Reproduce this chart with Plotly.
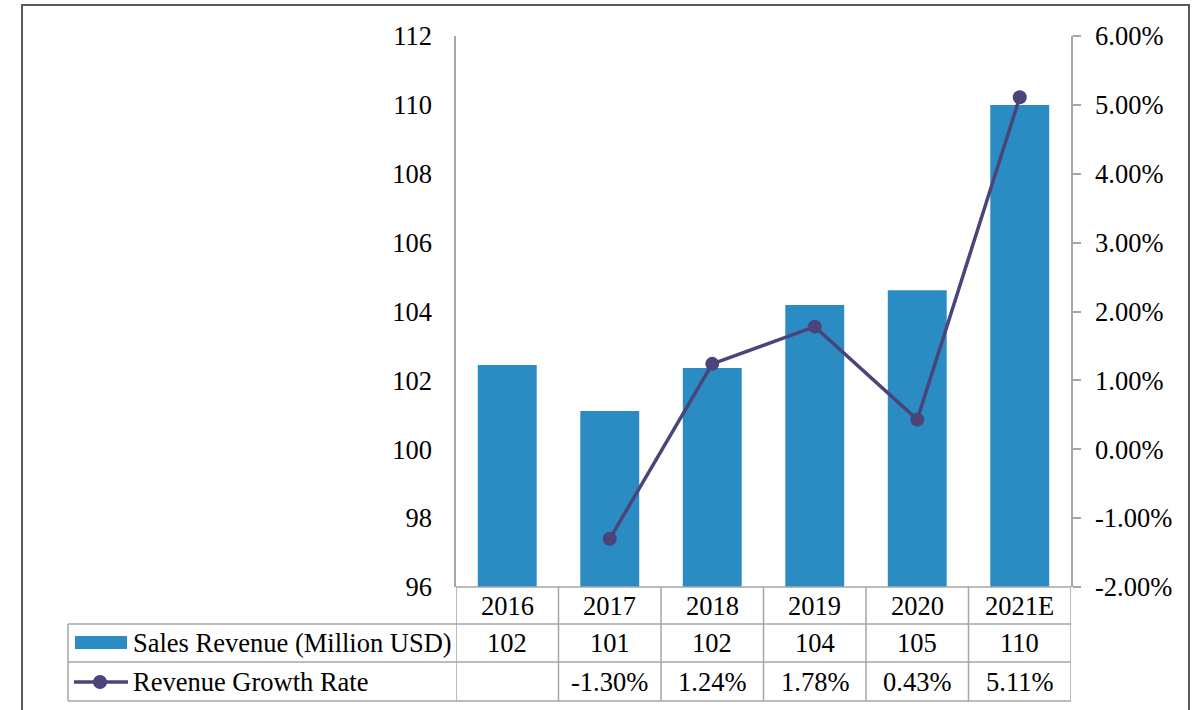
import plotly.graph_objects as go

# Data
years = ["2016", "2017", "2018", "2019", "2020", "2021E"]
revenue = [102.45, 101.11, 102.36, 104.19, 104.62, 110.0]   # Million USD
growth_pct = [None, -1.30, 1.24, 1.78, 0.43, 5.11]           # percent

left_ticks = [96, 98, 100, 102, 104, 106, 108, 110, 112]
right_ticks = [-0.02, -0.01, 0.0, 0.01, 0.02, 0.03, 0.04, 0.05, 0.06]

BAR_COLOR = "#2B8CC4"
LINE_COLOR = "#4A4479"
GRID_GRAY = "#A6A6A6"
FONT = "'Liberation Serif', 'Times New Roman', 'DejaVu Serif', serif"
FS = 26.5

W, H = 1197, 710
L, R, T, B = 456, 1071, 36, 587   # plot area in pixels


def px_x(px):
    return (px - L) / (R - L)


def px_y(py):
    return (B - py) / (B - T)


growth_frac = [None if g is None else g / 100 for g in growth_pct]

fig = go.Figure()
fig.add_trace(go.Bar(
    x=list(range(len(years))), y=revenue, name="Sales Revenue (Million USD)",
    marker=dict(color=BAR_COLOR, line=dict(width=0)), width=0.575,
))
fig.add_trace(go.Scatter(
    x=list(range(len(years))), y=growth_frac, name="Revenue Growth Rate",
    yaxis="y2", mode="lines+markers",
    line=dict(color=LINE_COLOR, width=3.5),
    marker=dict(color=LINE_COLOR, size=14),
    connectgaps=False,
))

shapes = []
annotations = []

# Table rows (pixel y of horizontal rule lines)
row_lines = [B, 624, 662, 701]
table_left = 68
n = len(years)

# horizontal rules
shapes.append(dict(type="line", xref="x", yref="paper", x0=-0.5, x1=n - 0.5,
                   y0=px_y(row_lines[0]), y1=px_y(row_lines[0]),
                   line=dict(color=GRID_GRAY, width=1.5)))
for py in row_lines[1:]:
    shapes.append(dict(type="line", xref="paper", yref="paper",
                       x0=px_x(table_left), x1=1, y0=px_y(py), y1=px_y(py),
                       line=dict(color=GRID_GRAY, width=1.5)))
# vertical rules between categories
for i in range(n + 1):
    shapes.append(dict(type="line", xref="x", yref="paper", x0=i - 0.5, x1=i - 0.5,
                       y0=px_y(row_lines[0]), y1=px_y(row_lines[-1]),
                       line=dict(color=GRID_GRAY, width=1.5)))
# left edge of legend column
shapes.append(dict(type="line", xref="paper", yref="paper",
                   x0=px_x(table_left), x1=px_x(table_left),
                   y0=px_y(row_lines[1]), y1=px_y(row_lines[-1]),
                   line=dict(color=GRID_GRAY, width=1.5)))

# row centres
row_mid = [(row_lines[i] + row_lines[i + 1]) / 2 for i in range(3)]
for i, yr in enumerate(years):
    annotations.append(dict(x=i, y=px_y(row_mid[0]), xref="x", yref="paper",
                            text=yr, showarrow=False, xanchor="center", yanchor="middle"))
    annotations.append(dict(x=i, y=px_y(row_mid[1]), xref="x", yref="paper",
                            text=f"{revenue[i]:.0f}", showarrow=False,
                            xanchor="center", yanchor="middle"))
    if growth_pct[i] is not None:
        annotations.append(dict(x=i, y=px_y(row_mid[2]), xref="x", yref="paper",
                                text=f"{growth_pct[i]:.2f}%", showarrow=False,
                                xanchor="center", yanchor="middle"))

# legend keys inside the table
shapes.append(dict(type="rect", xref="paper", yref="paper",
                   x0=px_x(75), x1=px_x(127), y0=px_y(649), y1=px_y(636),
                   fillcolor=BAR_COLOR, line=dict(width=0)))
shapes.append(dict(type="line", xref="paper", yref="paper",
                   x0=px_x(74), x1=px_x(128), y0=px_y(682), y1=px_y(682),
                   line=dict(color=LINE_COLOR, width=3.5)))
shapes.append(dict(type="circle", xref="paper", yref="paper",
                   x0=px_x(93), x1=px_x(107), y0=px_y(689), y1=px_y(675),
                   fillcolor=LINE_COLOR, line=dict(width=0)))
for name, py in [(fig.data[0].name, row_mid[1]), (fig.data[1].name, row_mid[2])]:
    annotations.append(dict(x=px_x(131), y=px_y(py), xref="paper", yref="paper",
                            text=name, showarrow=False, xanchor="left", yanchor="middle"))

# outer frame
shapes.append(dict(type="rect", xref="paper", yref="paper",
                   x0=px_x(22), x1=px_x(1189), y0=px_y(5), y1=px_y(720),
                   line=dict(color="#595959", width=2), fillcolor="rgba(0,0,0,0)"))

fig.update_layout(
    width=W, height=H,
    margin=dict(l=L, r=W - R, t=T, b=H - B, pad=0),
    paper_bgcolor="white", plot_bgcolor="white",
    showlegend=False,
    font=dict(family=FONT, size=FS, color="black"),
    xaxis=dict(range=[-0.5, n - 0.5], showticklabels=False, ticks="",
               showgrid=False, zeroline=False, showline=False, fixedrange=True),
    yaxis=dict(range=[96, 112], tickvals=left_ticks,
               ticktext=[str(v) for v in left_ticks],
               showgrid=False, zeroline=False,
               showline=True, linecolor=GRID_GRAY, linewidth=1.5, ticks="",
               ticklabelstandoff=17),
    yaxis2=dict(range=[-0.02, 0.06], tickvals=right_ticks,
                ticktext=[f"{v * 100:.2f}%" for v in right_ticks],
                overlaying="y", side="right", showgrid=False, zeroline=False,
                showline=True, linecolor=GRID_GRAY, linewidth=1.5,
                ticks="outside", ticklen=8, tickcolor=GRID_GRAY, tickwidth=1.5,
                ticklabelstandoff=9),
    shapes=shapes,
    annotations=annotations,
)

fig.write_html("out.html")
